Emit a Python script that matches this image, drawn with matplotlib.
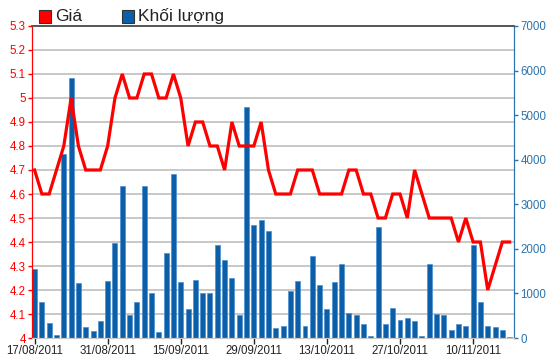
import matplotlib
matplotlib.use('Agg')
import matplotlib.pyplot as plt
import matplotlib.transforms as mtransforms
from matplotlib.patches import Rectangle
from matplotlib.ticker import FuncFormatter, MultipleLocator
import pandas as pd

plt.rcParams['font.family'] = ['Liberation Sans', 'DejaVu Sans']

# trading days, 02/09/2011 was a holiday
dates = pd.bdate_range('2011-08-17', '2011-11-17', freq='C', holidays=['2011-09-02'])

price = [4.7, 4.6, 4.6, 4.7, 4.8, 5.0, 4.8, 4.7, 4.7, 4.7,
         4.8, 5.0, 5.1, 5.0, 5.0, 5.1, 5.1, 5.0, 5.0, 5.1,
         5.0, 4.8, 4.9, 4.9, 4.8, 4.8, 4.7, 4.9, 4.8, 4.8,
         4.8, 4.9, 4.7, 4.6, 4.6, 4.6, 4.7, 4.7, 4.7, 4.6,
         4.6, 4.6, 4.6, 4.7, 4.7, 4.6, 4.6, 4.5, 4.5, 4.6,
         4.6, 4.5, 4.7, 4.6, 4.5, 4.5, 4.5, 4.5, 4.4, 4.5,
         4.4, 4.4, 4.2, 4.3, 4.4, 4.4]

volume = [1540, 810, 330, 60, 4130, 5840, 1230, 250, 160, 380,
          1280, 2140, 3410, 510, 810, 3410, 1000, 130, 1900, 3680,
          1250, 640, 1310, 1000, 1000, 2090, 1740, 1340, 510, 5190,
          2540, 2650, 2390, 220, 280, 1060, 1280, 280, 1840, 1200,
          640, 1250, 1670, 550, 510, 310, 45, 2480, 310, 670,
          410, 460, 380, 45, 1670, 530, 510, 190, 310, 280,
          2090, 810, 280, 250, 190, 30]

legend_labels = ['Giá', 'Khối lượng']

RED = '#ff0000'
BLUE = '#0a5fa8'
AXBLUE = '#2b73ad'
GRID = '#c8c8c8'

fig = plt.figure(figsize=(5.5, 3.64), dpi=100)
ax = fig.add_axes([0.0582, 0.0714, 0.8764, 0.8572])
ax2 = ax.twinx()
ax.set_zorder(2)
ax2.set_zorder(1)
ax.patch.set_visible(False)

x = list(range(len(dates)))

ax2.bar(x, volume, width=0.68, color=BLUE, edgecolor='#4d8fd0', linewidth=0.5, zorder=2)
ax.plot(x, price, color=RED, lw=2.3, solid_joinstyle='miter', zorder=3)

ax.set_xlim(-0.35, 65.6)
ax.set_ylim(4.0, 5.3)
ax2.set_ylim(0, 7000)

# horizontal grid at the price ticks, drawn behind the bars
blend = mtransforms.blended_transform_factory(ax2.transAxes, ax.transData)
for i in range(1, 13):
    p = 4.0 + i * 0.1
    ax2.plot([0, 1], [p, p], transform=blend, color=GRID, lw=1.4, zorder=0)

ax.yaxis.set_major_locator(MultipleLocator(0.1))
ax.yaxis.set_major_formatter(FuncFormatter(lambda v, pos: '%g' % round(v, 1)))
ax2.yaxis.set_major_locator(MultipleLocator(1000))

tick_pos = x[::10]
ax.set_xticks(tick_pos)
ax.set_xticklabels([dates[i].strftime('%d/%m/%Y') for i in tick_pos])

ax.tick_params(axis='y', colors=RED, labelsize=8.3, length=3, width=1, pad=1.5)
ax.tick_params(axis='x', colors='#222222', labelsize=8.3, length=4, width=1, pad=1)
ax2.tick_params(axis='y', colors=AXBLUE, labelsize=8.3, length=3, width=1, pad=1.5)

for a in (ax, ax2):
    a.spines['top'].set_color('#555555')
    a.spines['top'].set_linewidth(1.2)
    a.spines['bottom'].set_color(GRID)
    a.spines['left'].set_color(RED)
    a.spines['right'].set_color(AXBLUE)

# legend at the top
fig.add_artist(Rectangle((0.0709, 0.9368), 0.0218, 0.0357, transform=fig.transFigure,
                         facecolor=RED, edgecolor='#333333', lw=0.8))
fig.text(0.100, 0.9547, legend_labels[0], fontsize=12.5, color='#222222', va='center', ha='left')
fig.add_artist(Rectangle((0.2218, 0.9368), 0.0218, 0.0357, transform=fig.transFigure,
                         facecolor=BLUE, edgecolor='#333333', lw=0.8))
fig.text(0.251, 0.9547, legend_labels[1], fontsize=12.5, color='#222222', va='center', ha='left')

fig.savefig('out.png', dpi=100)
